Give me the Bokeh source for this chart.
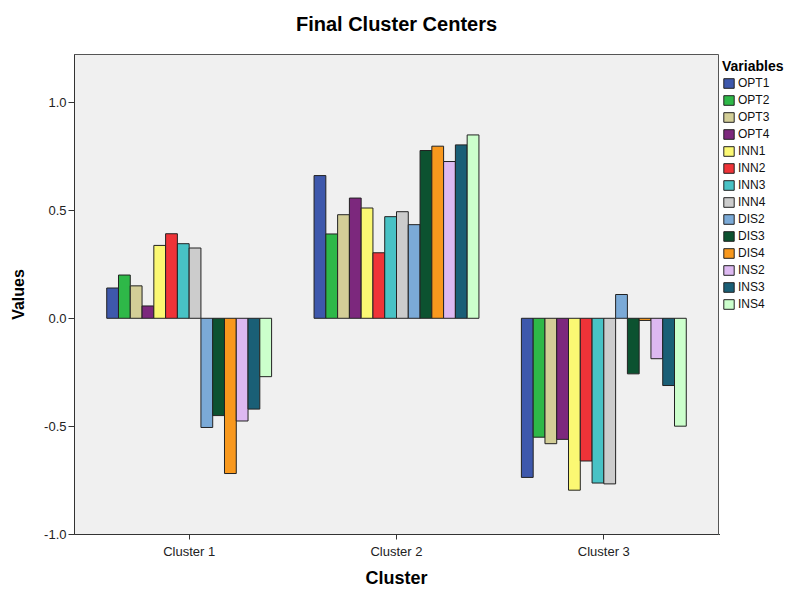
from bokeh.plotting import figure
from bokeh.models import (Range1d, FixedTicker, PrintfTickFormatter, Legend, LegendItem,
                          ColumnDataSource, Title)
from bokeh.layouts import row
from bokeh.embed import file_html
from bokeh.resources import INLINE

clusters = ["Cluster 1", "Cluster 2", "Cluster 3"]
variables = ["OPT1", "OPT2", "OPT3", "OPT4", "INN1", "INN2", "INN3", "INN4",
             "DIS2", "DIS3", "DIS4", "INS2", "INS3", "INS4"]
colors = ["#3E58AC", "#2EB848", "#D3CE97", "#7C287D", "#FBF873", "#EF3338", "#48C2C5",
          "#CCCCCC", "#7BAAD7", "#0C5230", "#F8981D", "#DDB9F1", "#1A5F76", "#CCFFCC"]
cluster1 = [0.14, 0.20, 0.15, 0.057, 0.337, 0.391, 0.345, 0.325,
            -0.505, -0.45, -0.718, -0.475, -0.42, -0.27]
cluster2 = [0.66, 0.39, 0.479, 0.556, 0.51, 0.303, 0.47, 0.493,
            0.433, 0.776, 0.796, 0.725, 0.802, 0.848]
cluster3 = [-0.736, -0.55, -0.58, -0.56, -0.795, -0.66, -0.762, -0.766,
            0.11, -0.257, -0.01, -0.187, -0.311, -0.499]
y_ticks = [-1.0, -0.5, 0.0, 0.5, 1.0]

FONT = "Liberation Sans"

p = figure(width=719, height=590, output_backend="svg", toolbar_location=None,
           x_range=Range1d(0.447, 3.553), y_range=Range1d(-1.0, 1.22),
           min_border_left=74, min_border_right=1, min_border_top=54,
           min_border_bottom=56)

p.background_fill_color = "#F0F0F0"
p.border_fill_color = "white"
p.outline_line_color = "#555555"
p.outline_line_width = 1
p.grid.visible = False

n = len(variables)
bw = 0.0568
positions = [i + 1 for i in range(len(clusters))]
sources = []
for i, var in enumerate(variables):
    off = (i - (n - 1) / 2) * bw
    src = ColumnDataSource(dict(x=[pp + off for pp in positions],
                                top=[cluster1[i], cluster2[i], cluster3[i]]))
    sources.append(src)
    p.vbar(x="x", top="top", bottom=0, width=bw, source=src,
           fill_color=colors[i], line_color="#222222", line_width=1)

# title
p.title.text = "Final Cluster Centers"
p.title.align = "center"
p.title.text_font = FONT
p.title.text_font_size = "20px"
p.title.text_font_style = "bold"
p.title.text_color = "#000000"
p.title.standoff = 16
# small spacer between the title and the plot frame
p.add_layout(Title(text=" ", text_font_size="1px", standoff=9), "above")

# axes
xa = p.xaxis[0]
xa.ticker = FixedTicker(ticks=positions)
xa.major_label_overrides = {pp: c for pp, c in zip(positions, clusters)}
ya = p.yaxis[0]
ya.ticker = FixedTicker(ticks=y_ticks)
ya.formatter = PrintfTickFormatter(format="%.1f")
for ax in (xa, ya):
    ax.minor_tick_line_color = None
    ax.major_tick_in = 0
    ax.major_tick_line_color = "#333333"
    ax.axis_line_color = "#333333"
    ax.major_label_text_font = FONT
    ax.major_label_text_font_size = "13px"
    ax.major_label_text_color = "#222222"
    ax.axis_label_text_font = FONT
    ax.axis_label_text_font_style = "bold"
    ax.axis_label_text_color = "#000000"
xa.axis_label = "Cluster"
ya.axis_label = "Values"
xa.axis_label_text_font_size = "18px"
ya.axis_label_text_font_size = "16px"
xa.major_tick_out = 5
xa.major_label_standoff = 4
xa.axis_label_standoff = 6
ya.major_tick_out = 6
ya.major_label_standoff = 2
ya.axis_label_standoff = 14

# legend panel (its bars fall fully outside its own ranges, so only the legend shows)
pl = figure(width=71, height=590, output_backend="svg", toolbar_location=None,
            min_border=0, x_range=Range1d(20, 21), y_range=Range1d(20, 21),
            x_axis_type=None, y_axis_type=None)
pl.grid.visible = False
pl.outline_line_color = None
pl.background_fill_color = "white"
pl.border_fill_color = "white"
items = []
for i, var in enumerate(variables):
    r = pl.vbar(x="x", top="top", bottom=0, width=bw, source=sources[i],
                fill_color=colors[i], line_color="#222222", line_width=1)
    items.append(LegendItem(label=var, renderers=[r]))

legend = Legend(items=items, location=(3, 223), orientation="vertical",
                title="Variables", title_text_font=FONT, title_text_font_size="14px",
                title_text_font_style="bold", title_text_color="#000000",
                title_standoff=2,
                label_text_font=FONT, label_text_font_size="12px",
                label_text_color="#111111",
                glyph_width=13, glyph_height=12, label_height=12, spacing=3,
                padding=0, margin=0, label_standoff=3,
                border_line_color=None, background_fill_alpha=0)
pl.add_layout(legend)

layout = row(p, pl)
open("out.html", "w").write(file_html(layout, INLINE))
